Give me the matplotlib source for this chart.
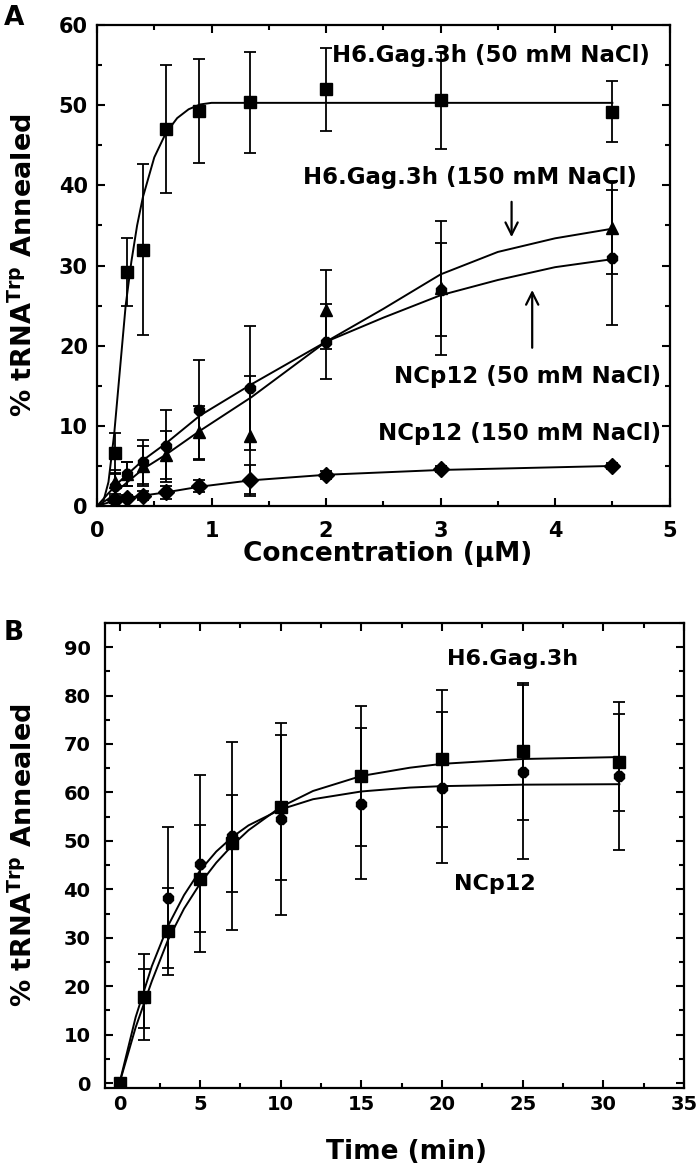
import numpy as np
import matplotlib.pyplot as plt
from matplotlib.ticker import MultipleLocator

plt.rcParams['font.family'] = ['DejaVu Sans']
plt.rcParams['font.weight'] = 'bold'
plt.rcParams['mathtext.fontset'] = 'dejavusans'

# ---- panel A data (concentration in uM, % annealed) ----
conc = [0.16, 0.26, 0.4, 0.6, 0.89, 1.34, 2.0, 3.0, 4.5]

gag50 = [6.6, 29.2, 32.0, 47.0, 49.3, 50.4, 52.0, 50.6, 49.2]
gag50_err = [2.5, 4.2, 10.7, 8.0, 6.5, 6.3, 5.2, 6.0, 3.8]
gag150 = [3.0, 4.0, 5.0, 6.4, 9.2, 8.7, 24.5, 27.2, 34.7]
gag150_err = [1.5, 1.5, 2.5, 3.0, 3.3, 7.5, 4.9, 8.3, 5.8]
nc50 = [2.5, 4.0, 5.5, 7.5, 12.0, 14.7, 20.5, 27.0, 31.0]
nc50_err = [1.5, 1.5, 2.8, 4.5, 6.2, 7.7, 4.7, 5.8, 8.4]
nc150 = [0.8, 1.0, 1.3, 1.7, 2.5, 3.3, 3.9, 4.6, 5.0]
nc150_err = [0.4, 0.4, 0.6, 0.8, 0.8, 1.8, 0.5, 0.4, 0.4]

# fitted curves
fitA_x_gag50 = [0, 0.05, 0.1, 0.15, 0.2, 0.25, 0.3, 0.35, 0.4, 0.5, 0.6, 0.7, 0.8, 0.9, 1.0, 4.5]
fitA_y_gag50 = [0, 0.3, 3, 9, 17, 25, 30.5, 35, 38.5, 43.5, 46.5, 48.4, 49.5, 50.1, 50.3, 50.3]
fitA_x = [0, 0.1, 0.2, 0.4, 0.6, 0.9, 1.35, 2.0, 2.5, 3.0, 3.5, 4.0, 4.5]
fitA_y_gag150 = [0, 0.9, 2.2, 4.6, 6.4, 9.4, 13.6, 20.5, 24.6, 28.9, 31.7, 33.4, 34.6]
fitA_y_nc50 = [0, 1.6, 3.1, 5.7, 7.8, 11.3, 15.2, 20.5, 23.5, 26.3, 28.2, 29.8, 30.8]
fitA_x_nc150 = [0, 0.16, 0.26, 0.4, 0.6, 0.89, 1.34, 2.0, 3.0, 4.5]
fitA_y_nc150 = [0, 0.7, 1.0, 1.3, 1.7, 2.4, 3.2, 3.9, 4.5, 5.0]

# ---- panel B data (time in min, % annealed) ----
time = [0, 1.5, 3, 5, 7, 10, 15, 20, 25, 31]
gagB = [0, 17.8, 31.3, 42.2, 49.5, 56.9, 63.4, 67.0, 68.5, 66.2]
gagB_err = [0, 8.9, 9.0, 11.0, 10.0, 14.9, 14.4, 14.2, 14.1, 10.0]
ncB = [0, 17.5, 38.3, 45.3, 51.0, 54.5, 57.7, 61.0, 64.2, 63.4]
ncB_err = [0, 6.1, 14.5, 18.2, 19.4, 19.8, 15.6, 15.6, 18.0, 15.3]

fitB_t = [0, 1, 2, 3, 4, 5, 6, 7, 8, 10, 12, 15, 18, 20, 25, 31]
fitB_gag = [0, 11.5, 21.0, 29.5, 36.0, 41.2, 45.5, 49.1, 52.2, 57.0, 60.3, 63.4, 65.1, 65.9, 66.9, 67.3]
fitB_nc = [0, 13.6, 24.1, 32.4, 38.8, 43.9, 47.8, 50.8, 53.2, 56.5, 58.6, 60.2, 61.0, 61.3, 61.6, 61.7]

ylab = r'% tRNA$^{\mathrm{Trp}}$ Annealed'

fig = plt.figure(figsize=(7, 11.73), dpi=100)


def style_axes(ax, lsize, xpad, ypad):
    for s in ax.spines.values():
        s.set_linewidth(1.6)
    ax.tick_params(which='both', direction='in', top=True, right=True,
                   width=1.5, labelsize=lsize)
    ax.tick_params(which='major', length=6)
    ax.tick_params(which='minor', length=3.5)
    ax.tick_params(axis='x', pad=xpad)
    ax.tick_params(axis='y', pad=ypad)
    for lab in ax.get_xticklabels() + ax.get_yticklabels():
        lab.set_fontweight('bold')


eb = dict(color='black', ecolor='black', elinewidth=1.3, capsize=4, capthick=1.3,
          linestyle='none', markersize=8)

# ---------------- panel A ----------------
axA = fig.add_axes([0.1386, 0.5686, 0.818, 0.410])
axA.plot(fitA_x_gag50, fitA_y_gag50, color='black', lw=1.4)
axA.plot(fitA_x, fitA_y_gag150, color='black', lw=1.4)
axA.plot(fitA_x, fitA_y_nc50, color='black', lw=1.4)
axA.plot(fitA_x_nc150, fitA_y_nc150, color='black', lw=1.4)
axA.errorbar(conc, gag50, yerr=gag50_err, marker='s', **eb)
axA.errorbar(conc, gag150, yerr=gag150_err, marker='^', **eb)
axA.errorbar(conc, nc50, yerr=nc50_err, marker='8', **eb)
axA.errorbar(conc, nc150, yerr=nc150_err, marker='D', **eb)

axA.set_xlim(0, 5)
axA.set_ylim(0, 60)
axA.xaxis.set_major_locator(MultipleLocator(1))
axA.xaxis.set_minor_locator(MultipleLocator(0.5))
axA.yaxis.set_major_locator(MultipleLocator(10))
axA.yaxis.set_minor_locator(MultipleLocator(5))
style_axes(axA, 15, 11, 6.5)
axA.set_xlabel('Concentration (µM)', fontsize=19, fontweight='bold')
axA.xaxis.set_label_coords(0.507, -0.072)
axA.set_ylabel(ylab, fontsize=19.5, fontweight='bold')
axA.yaxis.set_label_coords(-0.103, 0.5)

axA.text(3.44, 56.2, 'H6.Gag.3h (50 mM NaCl)', fontsize=16.5, fontweight='bold',
         ha='center', va='center')
axA.text(3.26, 41.0, 'H6.Gag.3h (150 mM NaCl)', fontsize=16.5, fontweight='bold',
         ha='center', va='center')
axA.text(3.76, 16.1, 'NCp12 (50 mM NaCl)', fontsize=16.5, fontweight='bold',
         ha='center', va='center')
axA.text(3.69, 9.1, 'NCp12 (150 mM NaCl)', fontsize=16.5, fontweight='bold',
         ha='center', va='center')
axA.annotate('', xy=(3.62, 33.2), xytext=(3.62, 38.3),
             arrowprops=dict(arrowstyle='->', color='black', lw=1.6, mutation_scale=22))
axA.annotate('', xy=(3.80, 27.3), xytext=(3.80, 19.4),
             arrowprops=dict(arrowstyle='->', color='black', lw=1.6, mutation_scale=22))
fig.text(0.005, 0.985, 'A', fontsize=19, fontweight='bold', va='center')

# ---------------- panel B ----------------
axB = fig.add_axes([0.15, 0.0725, 0.827, 0.3965])
axB.plot(fitB_t, fitB_gag, color='black', lw=1.4)
axB.plot(fitB_t, fitB_nc, color='black', lw=1.4)
axB.errorbar(time, gagB, yerr=gagB_err, marker='s', **eb)
axB.errorbar(time, ncB, yerr=ncB_err, marker='8', **eb)

axB.set_xlim(-0.9, 35)
axB.set_ylim(-1, 95)
axB.xaxis.set_major_locator(MultipleLocator(5))
axB.xaxis.set_minor_locator(MultipleLocator(2.5))
axB.yaxis.set_major_locator(MultipleLocator(10))
axB.yaxis.set_minor_locator(MultipleLocator(5))
style_axes(axB, 14, 5, 10.5)
axB.set_xlabel('Time (min)', fontsize=19, fontweight='bold')
axB.xaxis.set_label_coords(0.52, -0.11)
axB.set_ylabel(ylab, fontsize=19.5, fontweight='bold')
axB.yaxis.set_label_coords(-0.116, 0.5)

axB.text(24.4, 87.6, 'H6.Gag.3h', fontsize=16, fontweight='bold', ha='center', va='center')
axB.text(23.3, 41.0, 'NCp12', fontsize=16, fontweight='bold', ha='center', va='center')
fig.text(0.005, 0.46, 'B', fontsize=19, fontweight='bold', va='center')

fig.savefig('out.png', dpi=100)
